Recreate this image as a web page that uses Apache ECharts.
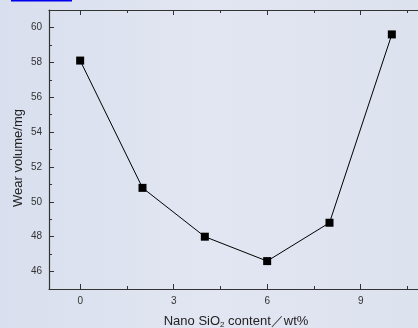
<!DOCTYPE html>
<html>
<head>
<meta charset="utf-8">
<script src="https://cdn.jsdelivr.net/npm/echarts@6/dist/echarts.min.js"></script>
<style>
html,body{margin:0;padding:0;}
#c{width:418px;height:328px;}
</style>
</head>
<body>
<div id="c"></div>
<script>
const xValues = [0, 2, 4, 6, 8, 10];
const wearVolume = [58.1, 50.8, 48.0, 46.6, 48.8, 59.6];
const xMajorTicks = [0, 3, 6, 9];
const xMinorTicks = [1.5, 4.5, 7.5, 10.5];
const yMajorTicks = [46, 48, 50, 52, 54, 56, 58, 60];
const yMinorTicks = [45, 47, 49, 51, 53, 55, 57, 59, 61];

const chart = echarts.init(document.getElementById('c'), null, {renderer: 'canvas'});
const font = '"Liberation Sans", Arial, sans-serif';
const axisCol = '#333';
const line = {show: true, onZero: false, lineStyle: {color: axisCol, width: 1.2}};
const noLine = {show: false, onZero: false};
function tickAxis(pos, vals, len, showLine) {
  return {
    type: 'value', min: -1, max: 11, position: pos,
    axisLine: showLine ? line : noLine,
    axisTick: {show: true, inside: true, length: len, customValues: vals, lineStyle: {color: axisCol}},
    axisLabel: {show: false}, splitLine: {show: false}
  };
}
function yTickAxis(pos, vals, len, showLine) {
  return {
    type: 'value', min: 45, max: 61, position: pos,
    axisLine: showLine ? line : noLine,
    axisTick: {show: true, inside: true, length: len, customValues: vals, lineStyle: {color: axisCol}},
    axisLabel: {show: false}, splitLine: {show: false}
  };
}
chart.setOption({
  backgroundColor: {
    type: 'linear', x: 0, y: 0, x2: 1, y2: 0,
    colorStops: [{offset: 0, color: '#d9dfee'}, {offset: 0.5, color: '#e2e6f2'}, {offset: 1, color: '#dde2ef'}]
  },
  animation: false,
  graphic: [
    {type: 'rect', left: 11, top: 0, shape: {width: 61, height: 1.5}, style: {fill: '#0000ee'}, silent: true}
  ],
  grid: {left: 49, top: 10, width: 374, height: 279, containLabel: false, outerBoundsMode: 'none'},
  xAxis: [{
    type: 'value', min: -1, max: 11,
    position: 'bottom',
    name: 'Nano SiO{sub|2} content／wt%',
    nameLocation: 'middle', nameGap: 24,
    nameTextStyle: {fontFamily: font, fontSize: 13, color: '#222',
      rich: {sub: {fontSize: 8, verticalAlign: 'bottom', padding: [8, 0, 0, 0], fontFamily: font, color: '#222'}}},
    axisLine: line,
    axisTick: {show: true, inside: true, length: 5, customValues: xMajorTicks, lineStyle: {color: axisCol}},
    axisLabel: {fontFamily: font, fontSize: 10, color: '#333', margin: 7, customValues: xMajorTicks},
    splitLine: {show: false}
  },
  tickAxis('bottom', xMinorTicks, 3, false),
  tickAxis('top', xMajorTicks, 5, true),
  tickAxis('top', xMinorTicks, 3, false)
  ],
  yAxis: [{
    type: 'value', min: 45, max: 61,
    name: 'Wear volume/mg', nameLocation: 'middle', nameGap: 24, nameMoveOverlap: false,
    nameTextStyle: {fontFamily: font, fontSize: 13, color: '#222', padding: [0, 17, 0, 0]},
    axisLine: line,
    axisTick: {show: true, inside: true, length: 5, customValues: yMajorTicks, lineStyle: {color: axisCol}},
    axisLabel: {fontFamily: font, fontSize: 10, color: '#333', margin: 7, customValues: yMajorTicks},
    splitLine: {show: false}
  },
  yTickAxis('left', yMinorTicks, 3, false)
  ],
  series: [{
    type: 'line',
    data: xValues.map((x, i) => [x, wearVolume[i]]),
    symbol: 'rect', symbolSize: 8,
    itemStyle: {color: '#000'},
    lineStyle: {color: '#000', width: 1},
    z: 5
  }]
});
</script>
</body>
</html>
